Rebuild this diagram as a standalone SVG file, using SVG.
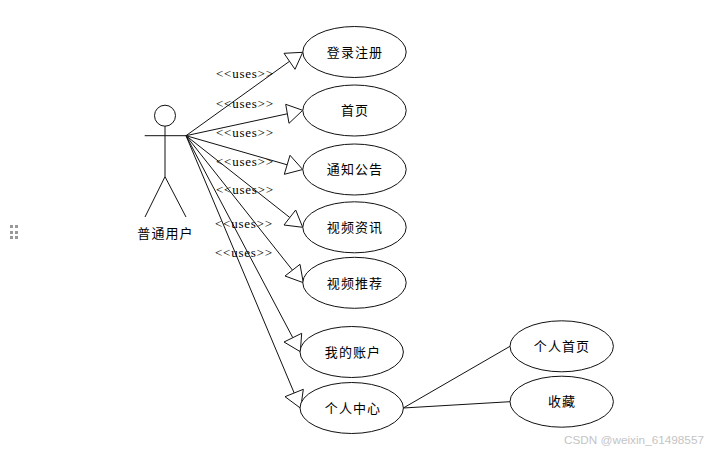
<svg xmlns="http://www.w3.org/2000/svg" width="727" height="453" viewBox="0 0 727 453">
<style>
.s{fill:none;stroke:#111;stroke-width:1}
.e{fill:#fff;stroke:#111;stroke-width:1}
.h{fill:#fff;stroke:#111;stroke-width:1}
.t{font-family:"Noto Sans CJK SC","Liberation Sans",sans-serif;font-size:13px;letter-spacing:1.1px;fill:#000;text-anchor:middle}
.u{font-family:"Liberation Serif",serif;font-size:13px;letter-spacing:.75px;fill:#000}
.w{font-family:"Liberation Sans",sans-serif;font-size:11.75px;fill:#c4c4c4}
.d{fill:#999}
</style>
<rect width="727" height="453" fill="#fff"/>
<g id="connectors">
<path class="s" d="M186 135.7L289.5 61.3M186 135.7L287.3 113.8M186 135.7L287.2 164.8M186 135.7L289.8 217.5M186 135.7L292.5 270.2M186 135.7L292.8 337.7M186 135.7L294.2 393"/>
<polygon class="h" points="302.7,52.3 284,53.3 295,69.3"/>
<polygon class="h" points="302.7,110.3 285.7,104.3 289,123.3"/>
<polygon class="h" points="302.7,169.5 290,155.3 284.3,174.3"/>
<polygon class="h" points="302.7,227.3 295.7,210 284,225"/>
<polygon class="h" points="303.3,282.7 300,264.3 285,276"/>
<polygon class="h" points="300.3,351.7 301.7,333.3 284,342"/>
<polygon class="h" points="300.7,408.3 303.3,389.3 285,396.7"/>
<path class="s" d="M403.3 408L510 346.3M403.3 408L510 401.7"/>
<text class="u" x="216" y="78">&lt;&lt;uses&gt;&gt;</text>
<text class="u" x="216" y="108">&lt;&lt;uses&gt;&gt;</text>
<text class="u" x="216" y="137">&lt;&lt;uses&gt;&gt;</text>
<text class="u" x="216" y="166">&lt;&lt;uses&gt;&gt;</text>
<text class="u" x="216" y="194">&lt;&lt;uses&gt;&gt;</text>
<text class="u" x="215" y="228">&lt;&lt;uses&gt;&gt;</text>
<text class="u" x="215" y="257">&lt;&lt;uses&gt;&gt;</text>
</g>
<g id="actor">
<circle class="s" cx="165" cy="115.7" r="10.5"/>
<path class="s" d="M165 126.2V176.7M144.7 135.7H186M165 176.7L145 217M165 176.7L186 217"/>
<text class="t" x="165.5" y="237.5">普通用户</text>
</g>
<g id="n1"><ellipse class="e" cx="354.5" cy="52" rx="51.7" ry="25.5"/><text class="t" x="355" y="56.5">登录注册</text></g>
<g id="n2"><ellipse class="e" cx="354.5" cy="110.5" rx="51.7" ry="25.5"/><text class="t" x="355" y="115">首页</text></g>
<g id="n3"><ellipse class="e" cx="354.5" cy="169.5" rx="51.7" ry="25.5"/><text class="t" x="355" y="174">通知公告</text></g>
<g id="n4"><ellipse class="e" cx="354.5" cy="227.3" rx="51.7" ry="25.5"/><text class="t" x="355" y="232">视频资讯</text></g>
<g id="n5"><ellipse class="e" cx="354.5" cy="282.8" rx="51.7" ry="25.5"/><text class="t" x="355" y="287.5">视频推荐</text></g>
<g id="n6"><ellipse class="e" cx="351.7" cy="352" rx="51.7" ry="25.5"/><text class="t" x="353" y="356.5">我的账户</text></g>
<g id="n7"><ellipse class="e" cx="351.7" cy="408" rx="51.7" ry="25.5"/><text class="t" x="353" y="412.5">个人中心</text></g>
<g id="n8"><ellipse class="e" cx="561.7" cy="346.3" rx="51.7" ry="25.5"/><text class="t" x="562" y="351">个人首页</text></g>
<g id="n9"><ellipse class="e" cx="561.7" cy="401.7" rx="51.7" ry="25.5"/><text class="t" x="562" y="406">收藏</text></g>
<text class="w" x="564" y="444">CSDN @weixin_61498557</text>
<g id="handle">
<rect class="d" x="10" y="225" width="3" height="3"/><rect class="d" x="15" y="225" width="3" height="3"/>
<rect class="d" x="10" y="231" width="3" height="3"/><rect class="d" x="15" y="231" width="3" height="3"/>
<rect class="d" x="10" y="236" width="3" height="3"/><rect class="d" x="15" y="236" width="3" height="3"/>
</g>
</svg>
